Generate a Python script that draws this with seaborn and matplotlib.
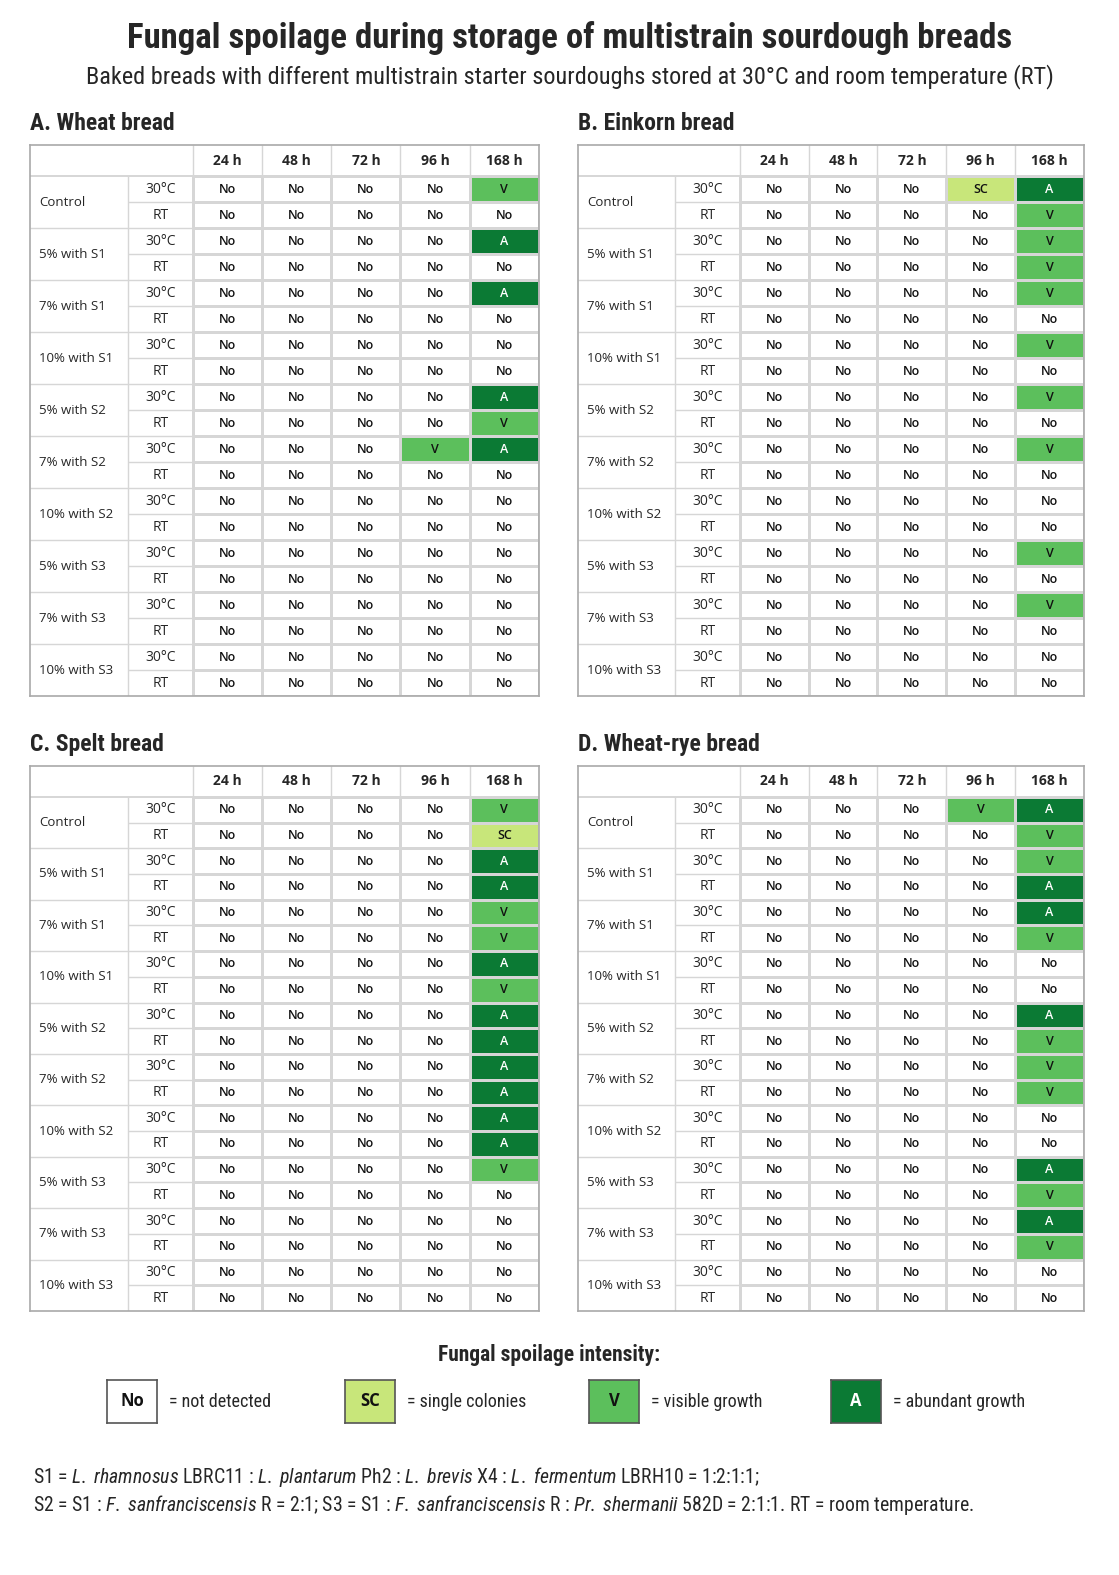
import numpy as np
import pandas as pd
import matplotlib
matplotlib.use("Agg")
import matplotlib.pyplot as plt
import seaborn as sns
from matplotlib.colors import ListedColormap
from matplotlib import font_manager

# ---- data ----
hours = ["24 h", "48 h", "72 h", "96 h", "168 h"]
groups = ["Control", "5% with S1", "7% with S1", "10% with S1",
          "5% with S2", "7% with S2", "10% with S2",
          "5% with S3", "7% with S3", "10% with S3"]
temps = ["30°C", "RT"]

levels = ["No", "SC", "V", "A"]
level_colors = ["#ffffff", "#c8e67a", "#5cbf5c", "#0b7a34"]
level_names = ["not detected", "single colonies", "visible growth", "abundant growth"]

# one string per row: group x temperature, columns 24 h ... 168 h
wheat = [
    "No No No No V", "No No No No No",
    "No No No No A", "No No No No No",
    "No No No No A", "No No No No No",
    "No No No No No", "No No No No No",
    "No No No No A", "No No No No V",
    "No No No V A", "No No No No No",
    "No No No No No", "No No No No No",
    "No No No No No", "No No No No No",
    "No No No No No", "No No No No No",
    "No No No No No", "No No No No No",
]
einkorn = [
    "No No No SC A", "No No No No V",
    "No No No No V", "No No No No V",
    "No No No No V", "No No No No No",
    "No No No No V", "No No No No No",
    "No No No No V", "No No No No No",
    "No No No No V", "No No No No No",
    "No No No No No", "No No No No No",
    "No No No No V", "No No No No No",
    "No No No No V", "No No No No No",
    "No No No No No", "No No No No No",
]
spelt = [
    "No No No No V", "No No No No SC",
    "No No No No A", "No No No No A",
    "No No No No V", "No No No No V",
    "No No No No A", "No No No No V",
    "No No No No A", "No No No No A",
    "No No No No A", "No No No No A",
    "No No No No A", "No No No No A",
    "No No No No V", "No No No No No",
    "No No No No No", "No No No No No",
    "No No No No No", "No No No No No",
]
wheat_rye = [
    "No No No V A", "No No No No V",
    "No No No No V", "No No No No A",
    "No No No No A", "No No No No V",
    "No No No No No", "No No No No No",
    "No No No No A", "No No No No V",
    "No No No No V", "No No No No V",
    "No No No No No", "No No No No No",
    "No No No No A", "No No No No V",
    "No No No No A", "No No No No V",
    "No No No No No", "No No No No No",
]
panel_titles = ["A. Wheat bread", "B. Einkorn bread", "C. Spelt bread", "D. Wheat-rye bread"]
panel_rows = [wheat, einkorn, spelt, wheat_rye]


def pick_font(candidates):
    have = {f.name for f in font_manager.fontManager.ttflist}
    for c in candidates:
        if c in have:
            return c
    return "DejaVu Sans"


sns.set_theme(style="white")
body_font = pick_font(["Open Sans", "Noto Sans", "DejaVu Sans"])
head_font = pick_font(["Roboto Condensed", "Liberation Sans Narrow", "Open Sans Condensed", "Roboto"])
plt.rcParams["font.family"] = [body_font, "DejaVu Sans"]
plt.rcParams["mathtext.fontset"] = "custom"
plt.rcParams["mathtext.rm"] = head_font
plt.rcParams["mathtext.it"] = head_font + ":italic"

cmap = ListedColormap(level_colors)
grid_col = "#d6d6d6"
border_col = "#a9a9a9"
gw, tw = 1.41, 0.94          # label column widths in cell units
hh = 1.2                     # header row height in row units

fig = plt.figure(figsize=(11.19, 15.75), dpi=100)
W, H = 1119, 1575
boxes = [(30, 145, 539, 696), (578, 145, 1084, 696),
         (30, 766, 539, 1311), (578, 766, 1084, 1311)]


def draw_panel(ax, rows):
    tokens = [r.split() for r in rows]
    idx = [f"{g} {t}" for g in groups for t in temps]
    codes = pd.DataFrame([[levels.index(v) for v in r] for r in tokens], index=idx, columns=hours)
    labels = np.array(tokens)
    sns.heatmap(codes, ax=ax, cmap=cmap, vmin=-0.5, vmax=3.5, cbar=False,
                annot=labels, fmt="", linewidths=0.8, linecolor=grid_col,
                annot_kws={"fontsize": 9, "fontweight": "semibold"})
    for t in ax.texts:
        t.set_color("white" if t.get_text() == "A" else "#111111")
    ax.set_xlim(-gw - tw, 5)
    ax.set_ylim(20, -hh)
    ax.set_xticks([])
    ax.set_yticks([])
    ax.set_xlabel("")
    ax.set_ylabel("")
    # label column grid
    ax.hlines(0, -gw - tw, 5, color=grid_col, lw=1.4)
    ax.hlines(np.arange(2, 20, 2), -gw - tw, 0, color=grid_col, lw=1)
    ax.hlines(np.arange(1, 20, 2), -tw, 0, color=grid_col, lw=1)
    ax.vlines(-tw, 0, 20, color=grid_col, lw=1)
    ax.vlines(np.arange(0, 5), -hh, 20, color=grid_col, lw=1)
    for j, h in enumerate(hours):
        ax.text(j + 0.5, -hh / 2, h, ha="center", va="center", fontsize=10, fontweight="bold")
    for g, name in enumerate(groups):
        ax.text(-gw - tw + 0.13, 2 * g + 1, name, ha="left", va="center", fontsize=9.5)
        for k, t in enumerate(temps):
            ax.text(-tw / 2, 2 * g + k + 0.5, t, ha="center", va="center", fontsize=10)
    for s in ax.spines.values():
        s.set_visible(True)
        s.set_color(border_col)
        s.set_linewidth(1.2)


for (x0, y0, x1, y1), rows, title in zip(boxes, panel_rows, panel_titles):
    ax = fig.add_axes([x0 / W, 1 - y1 / H, (x1 - x0) / W, (y1 - y0) / H])
    draw_panel(ax, rows)
    fig.text(x0 / W, 1 - (y0 - 21) / H, title, ha="left", va="center",
             fontsize=17, fontweight="bold", family=head_font)

fig.text(0.509, 1 - 38 / H, "Fungal spoilage during storage of multistrain sourdough breads",
         ha="center", va="center", fontsize=25, fontweight="bold", family=head_font)
fig.text(0.509, 1 - 77 / H,
         "Baked breads with different multistrain starter sourdoughs stored at 30°C and room temperature (RT)",
         ha="center", va="center", fontsize=17.5, family=head_font)

# legend
fig.text(549 / W, 1 - 1355 / H, "Fungal spoilage intensity:", ha="center", va="center",
         fontsize=15.5, fontweight="bold", family=head_font)
leg_x = [107, 345, 589, 831]
for lx, lev, col, name in zip(leg_x, levels, level_colors, level_names):
    lax = fig.add_axes([lx / W, 1 - 1423 / H, 50 / W, 43 / H])
    sns.heatmap(pd.DataFrame([[levels.index(lev)]]), ax=lax, cmap=cmap, vmin=-0.5, vmax=3.5,
                cbar=False, annot=np.array([[lev]]), fmt="",
                annot_kws={"fontsize": 12, "fontweight": "bold",
                           "color": "white" if lev == "A" else "#111111"})
    lax.set_xticks([])
    lax.set_yticks([])
    for s in lax.spines.values():
        s.set_visible(True)
        s.set_color("#555555")
        s.set_linewidth(1.2)
    fig.text((lx + 62) / W, 1 - 1402 / H, "= " + name, ha="left", va="center",
             fontsize=13, family=head_font)

# footnote
fig.text(33 / W, 1 - 1477 / H,
         r"S1 = $\it{L.\ rhamnosus}$ LBRC11 : $\it{L.\ plantarum}$ Ph2 : $\it{L.\ brevis}$ X4 : "
         r"$\it{L.\ fermentum}$ LBRH10 = 1:2:1:1;",
         ha="left", va="center", fontsize=14.2, family=head_font)
fig.text(33 / W, 1 - 1505 / H,
         r"S2 = S1 : $\it{F.\ sanfranciscensis}$ R = 2:1; S3 = S1 : $\it{F.\ sanfranciscensis}$ R : "
         r"$\it{Pr.\ shermanii}$ 582D = 2:1:1. RT = room temperature.",
         ha="left", va="center", fontsize=14.2, family=head_font)

fig.savefig("out.png", dpi=100)
